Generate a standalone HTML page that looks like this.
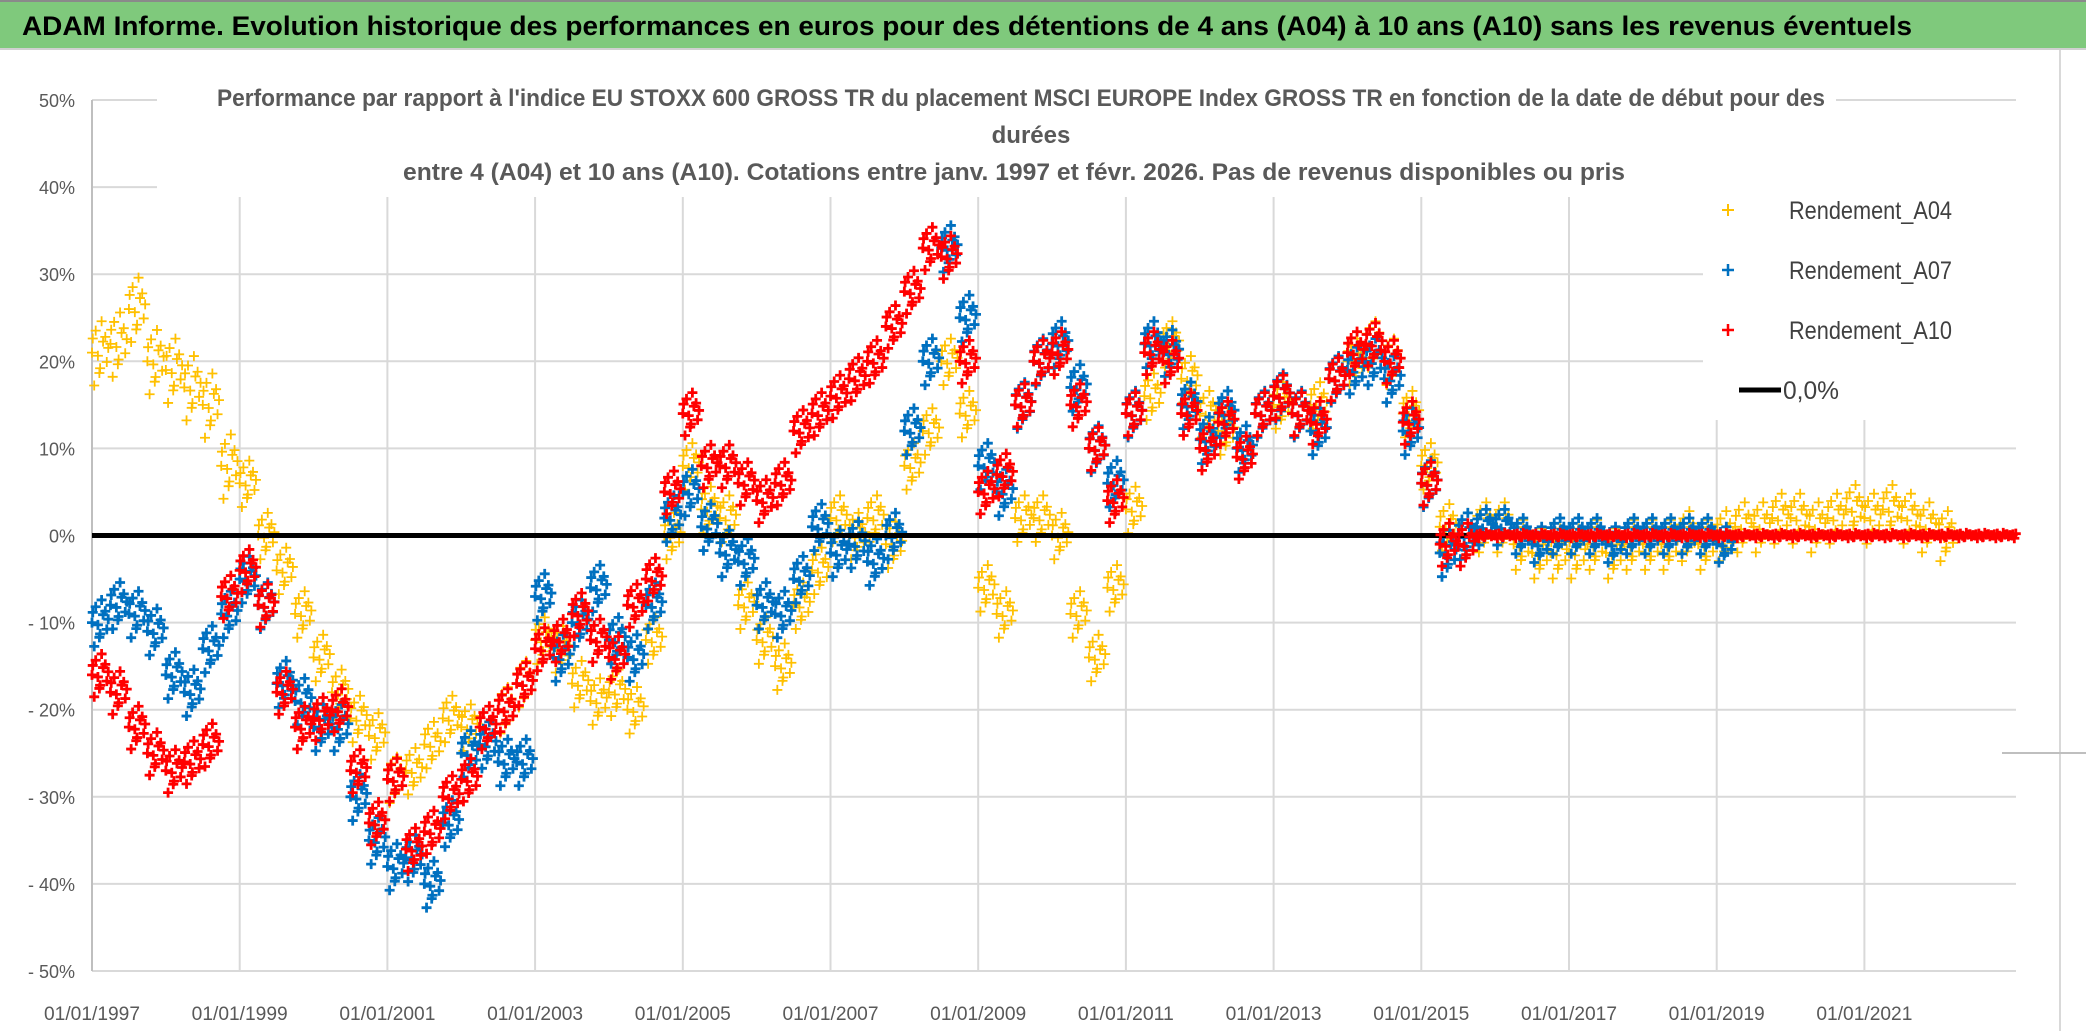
<!DOCTYPE html>
<html><head><meta charset="utf-8"><style>
html,body{margin:0;padding:0;background:#fff;}
svg{display:block;font-family:"Liberation Sans",sans-serif;}
</style></head><body>
<svg id="chart" width="2086" height="1031" viewBox="0 0 2086 1031">
  <rect x="0" y="0" width="2086" height="1031" fill="#fff"/>
  <rect x="0" y="0" width="2086" height="48" fill="#7FC97C"/>
  <line x1="0" y1="1" x2="2086" y2="1" stroke="#8a8a8a" stroke-width="2"/>
  <line x1="0" y1="49" x2="2086" y2="49" stroke="#d0d0d0" stroke-width="2"/>
  <text x="22" y="35" font-size="27" font-weight="bold" fill="#000" textLength="1890" lengthAdjust="spacingAndGlyphs">ADAM Informe. Evolution historique des performances en euros pour des détentions de 4 ans (A04) à 10 ans (A10) sans les revenus éventuels</text>
  <line x1="2060" y1="50" x2="2060" y2="1031" stroke="#d9d9d9" stroke-width="2"/>
  <line x1="2002" y1="753" x2="2086" y2="753" stroke="#bfbfbf" stroke-width="2"/>
  <g id="grid"></g>
  <g id="yticks"></g>
  <g id="xticks"></g>
  <rect x="157" y="88" width="1679" height="108" fill="#fff"/>
  <g fill="#595959" font-size="24" font-weight="bold" text-anchor="middle">
    <text x="1021" y="106" textLength="1608" lengthAdjust="spacingAndGlyphs">Performance par rapport à l'indice EU STOXX 600 GROSS TR  du placement MSCI EUROPE Index GROSS TR en fonction de la date de début pour des</text>
    <text x="1031" y="143">durées</text>
    <text x="1014" y="180" textLength="1222" lengthAdjust="spacingAndGlyphs">entre 4 (A04) et 10 ans (A10). Cotations entre janv. 1997 et févr. 2026. Pas de revenus disponibles ou pris</text>
  </g>
  <g id="marks"></g>
  <line id="zeroline" x1="92" x2="2016" stroke="#000" stroke-width="5"/>
  <g id="reds"></g>
  <rect x="1703" y="178" width="313" height="242" fill="#fff"/>
  <g font-size="25" fill="#404040">
    <g><path d="M1722 210h12M1728 204v12" stroke="#FFC000" stroke-width="2"/><text x="1789" y="219" textLength="163" lengthAdjust="spacingAndGlyphs">Rendement_A04</text></g>
    <g><path d="M1722 270h12M1728 264v12" stroke="#0070C0" stroke-width="2.5"/><text x="1789" y="279" textLength="163" lengthAdjust="spacingAndGlyphs">Rendement_A07</text></g>
    <g><path d="M1722 330h12M1728 324v12" stroke="#FF0000" stroke-width="2.5"/><text x="1789" y="339" textLength="163" lengthAdjust="spacingAndGlyphs">Rendement_A10</text></g>
    <g><line x1="1739" y1="390" x2="1781" y2="390" stroke="#000" stroke-width="5"/><text x="1783" y="399" textLength="56" lengthAdjust="spacingAndGlyphs">0,0%</text></g>
  </g>
</svg>
<script>
const startYear = 1997;
const stepYears = 0.25;
const yTicks = [50,40,30,20,10,0,-10,-20,-30,-40,-50];
const yTickLabels = ["50%","40%","30%","20%","10%","0%","- 10%","- 20%","- 30%","- 40%","- 50%"];
const xTickYears = [1997,1999,2001,2003,2005,2007,2009,2011,2013,2015,2017,2019,2021];
const xTickLabels = ["01/01/1997","01/01/1999","01/01/2001","01/01/2003","01/01/2005","01/01/2007","01/01/2009","01/01/2011","01/01/2013","01/01/2015","01/01/2017","01/01/2019","01/01/2021"];
const seriesA04 = [21,22,26,20,19,17,15,8,6,0,-4,-9,-14,-18,-21,-23,-28,-27,-24,-21,-22,-24,-20,-17,-12,-13,-17,-19,-18,-20,-12,0,8,3,2,-8,-12,-15,-8,-4,2,0,2,-1,8,12,20,14,-6,-9,2,2,0,-9,-14,-6,3,16,22,18,14,12,10,14,15,14,15,18,20,22,20,14,8,1,0,1,1,-1,-2,-2,-2,-1,-2,-1,-1,-1,0,-1,0,1,1,2,2,1,2,3,2,3,2,1,0];
const seriesA07 = [-10,-8,-9,-11,-16,-18,-13,-9,-5,-8,-17,-19,-22,-22,-30,-35,-38,-37,-40,-33,-25,-24,-26,-26,-7,-14,-10,-6,-12,-14,-8,2,5,1,-2,-3,-8,-9,-5,1,-2,-1,-3,0,12,20,33,25,8,5,15,20,22,17,10,6,14,22,21,15,11,14,10,14,16,14,12,18,19,20,18,12,6,-2,0,1,1,0,-1,0,0,0,-1,0,0,0,0,0,-1];
const seriesA10 = [-16,-18,-22,-25,-27,-26,-24,-7,-4,-8,-18,-22,-21,-20,-27,-33,-28,-36,-34,-30,-28,-22,-20,-17,-13,-12,-9,-12,-14,-8,-5,5,14,8,8,6,4,6,12,14,16,18,20,24,28,33,32,20,5,7,15,20,21,15,10,4,14,21,20,14,10,13,9,14,16,14,13,18,21,22,20,13,6,-1,-1,0,0,0,0,0,0,0,0,0,0,0,0,0,0,0,0,0,0,0,0,0,0,0,0,0,0,0,0,0,0];

const NS = "http://www.w3.org/2000/svg";
const plotL = 92, plotR = 2016, plotT = 100, plotB = 971;
function xScale(yr){ return plotL + (yr - 1997) * 73.85; }
function yScale(v){ return plotT + (50 - v) * (plotB - plotT) / 100; }

const grid = document.getElementById('grid');
yTicks.forEach((v,i)=>{
  const l = document.createElementNS(NS,'line');
  l.setAttribute('x1', plotL); l.setAttribute('x2', plotR);
  l.setAttribute('y1', yScale(v)); l.setAttribute('y2', yScale(v));
  l.setAttribute('stroke', '#d9d9d9'); l.setAttribute('stroke-width', '2');
  
  
  grid.appendChild(l);
  const t = document.createElementNS(NS,'text');
  t.setAttribute('x', 75); t.setAttribute('y', yScale(v) + 7);
  t.setAttribute('text-anchor', 'end'); t.setAttribute('font-size', '18'); t.setAttribute('fill', '#595959');
  t.textContent = yTickLabels[i];
  
  
  document.getElementById('yticks').appendChild(t);
});
xTickYears.forEach((yr,i)=>{
  const x = xScale(yr);
  const l = document.createElementNS(NS,'line');
  l.setAttribute('x1', x); l.setAttribute('x2', x);
  l.setAttribute('y1', yr === 1997 ? plotT : 197); l.setAttribute('y2', plotB);
  l.setAttribute('stroke', yr === 1997 ? '#bfbfbf' : '#d9d9d9'); l.setAttribute('stroke-width', '2');
  
  
  grid.appendChild(l);
  const t = document.createElementNS(NS,'text');
  t.setAttribute('x', x); t.setAttribute('y', 1020);
  t.setAttribute('text-anchor', 'middle'); t.setAttribute('font-size', '19'); t.setAttribute('fill', '#595959');
  t.setAttribute('textLength', '96'); t.setAttribute('lengthAdjust', 'spacingAndGlyphs');
  t.textContent = xTickLabels[i];
  
  
  document.getElementById('xticks').appendChild(t);
});
const z = document.getElementById('zeroline');
z.setAttribute('y1', yScale(0)); z.setAttribute('y2', yScale(0));

const offT = [0, 0.05, 0.1, 0.15, 0.2, 0.03, 0.13, 0.22, 0.08, 0.18, 0.01, 0.11];
const offV = [0, 1.4, -1.3, 0.7, -0.6, -2.1, 2.0, 0.3, -0.2, 1.0, 0.9, -1.0];
function drawSeries(values, color, sw, group, name, spreadScale){
  const g = document.getElementById(group);
  values.forEach((v,i)=>{
    const t0 = startYear + i*stepYears;
    for(let k=0;k<offT.length;k++){
      const cx = xScale(t0 + offT[k]);
      const cy = yScale(v + offV[k]*spreadScale(v, t0));
      if (cx > plotR) continue;
      const p = document.createElementNS(NS,'path');
      p.setAttribute('d', `M${cx-5} ${cy}h10M${cx} ${cy-5}v10`);
      p.setAttribute('stroke', color); p.setAttribute('stroke-width', sw);
      
      
      g.appendChild(p);
    }
  });
}
drawSeries(seriesA04, '#FFC000', 1.8, 'marks', 'point-a04', (v,t)=> t < 1999 ? 1.8 : (t > 2015.5 ? 1.4 : 1.3));
drawSeries(seriesA07, '#0070C0', 2.8, 'marks', 'point-a07', (v,t)=> t > 2015.5 ? 1.0 : 1.3);
drawSeries(seriesA10, '#FF0000', 2.8, 'reds', 'point-a10', (v,t)=> t > 2015.6 ? 0.15 : 1.2);
</script>
</body></html>
